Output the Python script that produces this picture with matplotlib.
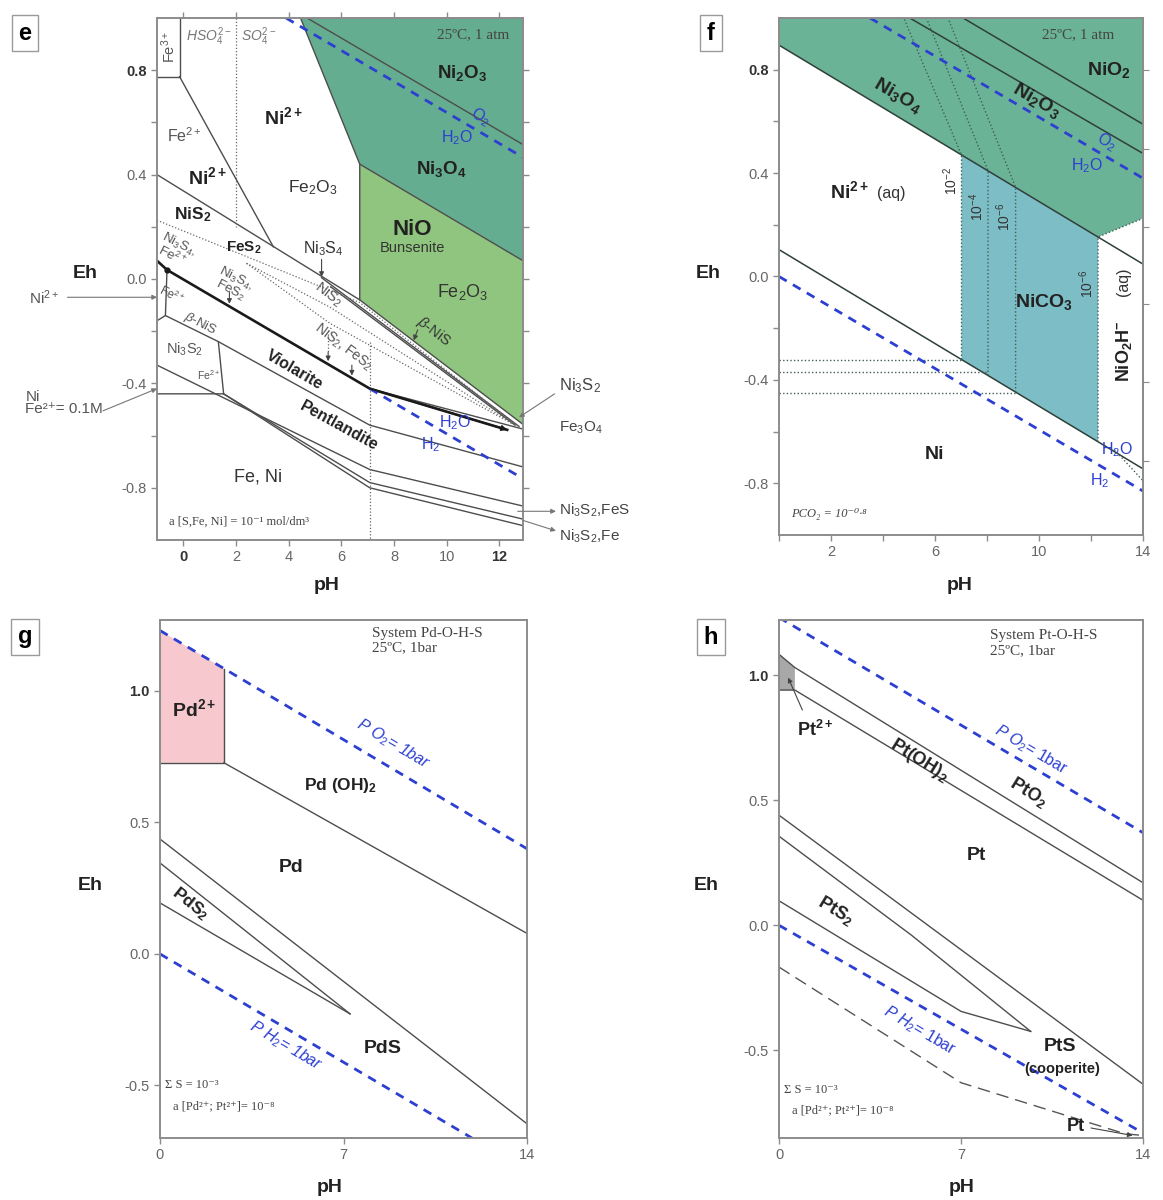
import numpy as np
import matplotlib.pyplot as plt
from matplotlib.patches import Polygon

plt.rcParams['font.family'] = ['Liberation Sans', 'DejaVu Sans']
plt.rcParams['mathtext.fontset'] = 'custom'
plt.rcParams['mathtext.rm'] = 'Liberation Sans'
plt.rcParams['mathtext.it'] = 'Liberation Sans:italic'
plt.rcParams['mathtext.bf'] = 'Liberation Sans:bold'
SERIF = ['Liberation Serif', 'DejaVu Serif']

# ---------------- panel e : Ni-Fe-S-O-H ----------------
e_dark = [(4.45, 1.0), (6.7, 0.44), (12.9, 0.07), (12.9, 1.0)]
e_light = [(6.7, 0.44), (12.9, 0.07), (12.9, -0.557), (6.7, -0.08)]
e_solid = [
    [(-1.0, 0.775), (-0.14, 0.775), (-0.14, 1.0)],
    [(-0.14, 0.775), (3.42, 0.123)],
    [(4.45, 1.0), (6.7, 0.44), (6.7, -0.08)],
    [(4.7, 1.0), (12.9, 0.515)],
    [(6.7, 0.44), (12.9, 0.07)],
    [(-1.0, 0.40), (6.7, -0.08), (12.9, -0.557)],
    [(5.25, 0.005), (12.75, -0.565)],
    [(5.6, -0.03), (12.6, -0.56)],
    [(-0.62, 0.035), (-0.68, -0.14), (-1.0, -0.16)],
    [(-0.68, -0.14), (1.33, -0.24), (7.08, -0.56), (12.9, -0.72)],
    [(1.33, -0.24), (1.53, -0.44), (-1.0, -0.44)],
    [(-1.0, -0.33), (7.08, -0.73), (12.9, -0.87)],
    [(1.53, -0.44), (7.08, -0.78), (12.9, -0.92)],
    [(1.53, -0.44), (7.08, -0.80), (12.9, -0.945)],
    [(7.08, -0.42), (12.9, -0.575)],
]
e_violarite = [(-1.0, 0.07), (-0.62, 0.035), (7.08, -0.42), (12.3, -0.578)]
e_dotted = [
    [(2.0, 1.0), (2.0, 0.2)],
    [(-1.0, 0.225), (6.7, -0.09), (12.6, -0.555)],
    [(2.4, 0.06), (5.57, -0.108), (12.6, -0.56)],
    [(2.4, 0.06), (5.57, -0.17), (12.5, -0.555)],
    [(7.08, -0.24), (7.08, -1.0)],
]
e_o2 = [(3.9, 1.0), (12.9, 0.466)]
e_h2 = [(7.08, -0.42), (12.9, -0.765)]

# ---------------- panel f : Ni-C-O-H ----------------
f_green = [(0, 1.0), (0, 0.895), (12.27, 0.153), (14, 0.225), (14, 1.0)]
f_teal = [(7.02, 0.470), (12.27, 0.153), (12.27, -0.640), (7.02, -0.321)]
f_solid = [
    [(0, 0.895), (14, 0.048)],
    [(5.03, 1.0), (14, 0.476)],
    [(7.08, 1.0), (14, 0.589)],
    [(0, 0.104), (14, -0.744)],
]
f_dotted = [
    [(7.02, -0.321), (7.02, 0.47), (4.8, 1.0)],
    [(8.04, -0.383), (8.04, 0.41), (5.67, 1.0)],
    [(9.1, -0.447), (9.1, 0.345), (6.5, 1.0)],
    [(12.27, -0.64), (12.27, 0.153), (14, 0.225)],
    [(0, -0.324), (7.02, -0.324)],
    [(0, -0.369), (8.04, -0.369)],
    [(0, -0.449), (9.1, -0.449)],
    [(12.9, -0.67), (14, -0.79)],
]
f_o2 = [(3.5, 1.0), (14, 0.38)]
f_h2 = [(0, 0.0), (14, -0.83)]
f_right_ticks = [0.80, 0.495, 0.19, -0.105, -0.41, -0.715]

# ---------------- panel g : Pd-O-H-S ----------------
g_pink = [(0, 1.23), (2.44, 1.085), (2.44, 0.727), (0, 0.727)]
g_solid = [
    [(0, 0.727), (2.44, 0.727), (2.44, 1.085)],
    [(2.44, 0.727), (14, 0.078)],
    [(0, 0.437), (14, -0.646)],
    [(0, 0.346), (7.25, -0.228)],
    [(0, 0.194), (7.25, -0.228)],
]
g_o2 = [(0, 1.23), (14, 0.40)]
g_h2 = [(0, 0.0), (11.9, -0.70)]

# ---------------- panel h : Pt-O-H-S ----------------
h_gray = [(0, 1.083), (0.61, 1.03), (0.61, 0.94), (0, 0.94)]
h_solid = [
    [(0, 1.083), (0.61, 1.03), (14, 0.17)],
    [(0, 0.94), (0.61, 0.94), (14, 0.10)],
    [(0, 0.44), (14, -0.635)],
    [(0, 0.356), (5.1, -0.04), (9.68, -0.424)],
    [(0, 0.098), (7.0, -0.344), (9.68, -0.424)],
]
h_dashed = [(0, -0.167), (7.0, -0.629), (13.3, -0.833), (14, -0.84)]
h_o2 = [(0, 1.23), (14, 0.37)]
h_h2 = [(0, 0.0), (14, -0.83)]

LINE = '#4d4d4d'
BLUE = '#2c3fd1'
SPINE = '#8c8c8c'
DARK = '#222222'
GRAY = '#555555'
SOLID = dict(color=LINE, lw=1.0)
DOT = dict(color='#666666', lw=0.9, ls=(0, (1, 1.6)))
BLUED = dict(color=BLUE, lw=2.0, ls=(0, (3.2, 2.6)))

W, H = 1163, 1200
fig = plt.figure(figsize=(W / 100, H / 100), dpi=100)


def axes_px(l, t, r, b):
    return fig.add_axes([l / W, 1 - b / H, (r - l) / W, (b - t) / H])


def draw(ax, pts, **kw):
    xs, ys = zip(*pts)
    ax.plot(xs, ys, **kw)


def fill(ax, pts, color):
    ax.add_patch(Polygon(pts, closed=True, fc=color, ec='none', zorder=0))


def ang(ax, p0, p1):
    a = ax.transData.transform([p0, p1])
    return np.degrees(np.arctan2(a[1, 1] - a[0, 1], a[1, 0] - a[0, 0]))


def txt(ax, x, y, s, size=12, bold=False, color=DARK, rot=0, **kw):
    kw.setdefault('ha', 'center')
    kw.setdefault('va', 'center')
    ax.text(x, y, s, fontsize=size, fontweight='bold' if bold else 'normal',
            color=color, rotation=rot, rotation_mode='anchor', clip_on=False, **kw)


def arrow(ax, start, end, color='#444444', lw=0.8, style='-|>', ms=7):
    ax.annotate('', xy=end, xytext=start, annotation_clip=False,
                arrowprops=dict(arrowstyle=style, color=color, lw=lw,
                                mutation_scale=ms, shrinkA=0, shrinkB=0))


def style(ax, xlim, ylim, xt, xl, yt, yl, bold, minor_y=(), top=False, right=False):
    ax.set_xlim(xlim)
    ax.set_ylim(ylim)
    ax.set_xticks(xt)
    ax.set_xticklabels(xl)
    ax.set_yticks(yt)
    ax.set_yticklabels(yl)
    if minor_y:
        ax.set_yticks(minor_y, minor=True)
    for s in ax.spines.values():
        s.set_color(SPINE)
        s.set_linewidth(1.4)
    ax.tick_params(which='both', direction='out', length=4, width=1.0,
                   color=SPINE, labelsize=10.5, labelcolor='#666666',
                   top=top, right=right, labeltop=False, labelright=False)
    for t in ax.get_xticklabels() + ax.get_yticklabels():
        if t.get_text() in bold:
            t.set_fontweight('bold')
            t.set_color('#333333')


def tag(x, y, s):
    fig.text(x / W, 1 - y / H, s, fontsize=17, fontweight='bold', ha='center', va='center',
             bbox=dict(boxstyle='square,pad=0.28', fc='white', ec='#9a9a9a', lw=1.0))


def axis_labels(ehx, ehy, phx, phy):
    fig.text(ehx / W, 1 - ehy / H, 'Eh', fontsize=14, fontweight='bold', ha='center', va='center', color=DARK)
    fig.text(phx / W, 1 - phy / H, 'pH', fontsize=14, fontweight='bold', ha='center', va='center', color=DARK)


# ======================= e =======================
ax = axes_px(157, 18, 523, 540)
style(ax, (-1.0, 12.9), (-1.0, 1.0), [0, 2, 4, 6, 8, 10, 12],
      ['0', '2', '4', '6', '8', '10', '12'], [-0.8, -0.4, 0.0, 0.4, 0.8],
      ['-0.8', '-0.4', '0.0', '0.4', '0.8'], ('0', '12', '0.8'),
      minor_y=[-0.6, -0.2, 0.2, 0.6], top=True, right=True)
fill(ax, e_dark, '#65ad90')
fill(ax, e_light, '#90c57f')
for ln in e_solid:
    draw(ax, ln, **SOLID)
for ln in e_dotted:
    draw(ax, ln, **DOT)
draw(ax, e_violarite, color='#1a1a1a', lw=1.9)
ax.plot([-0.62], [0.035], 'o', color='#1a1a1a', ms=3.5)
arrow(ax, e_violarite[-2], e_violarite[-1], color='#1a1a1a', lw=1.2, style='-|>', ms=8)
draw(ax, e_o2, **BLUED)
draw(ax, e_h2, **BLUED)

txt(ax, -0.57, 0.89, r'Fe$^{3+}$', 10.5, color=GRAY, rot=90)
txt(ax, 0.95, 0.93, r'$HSO_4^{2-}$', 10, color='#777777')
txt(ax, 2.85, 0.93, r'$SO_4^{2-}$', 10, color='#777777')
txt(ax, 3.8, 0.62, r'$\mathbf{Ni^{2+}}$', 14)
txt(ax, 0.05, 0.55, r'Fe$^{2+}$', 11.5, color=GRAY)
txt(ax, 0.9, 0.39, r'$\mathbf{Ni^{2+}}$', 14)
txt(ax, 4.9, 0.35, r'Fe$_2$O$_3$', 12.5, color='#333333')
txt(ax, 0.35, 0.245, r'$\mathbf{NiS_2}$', 12.5)
txt(ax, 2.3, 0.12, r'$\mathbf{FeS_2}$', 11)
txt(ax, 5.3, 0.115, r'Ni$_3$S$_4$', 11.5, color='#333333')
arrow(ax, (5.25, 0.075), (5.25, 0.008))
rot_s = ang(ax, (-1.0, 0.225), (6.7, -0.09)) - 5
txt(ax, -0.3, 0.11, 'Ni$_3$S$_4$,\nFe$^{2+}$', 9.5, color=GRAY, rot=rot_s, linespacing=0.85)
txt(ax, 1.9, -0.02, 'Ni$_3$S$_4$,\nFeS$_2$', 9.5, color=GRAY, rot=rot_s, linespacing=0.85)
arrow(ax, (1.75, -0.05), (1.75, -0.095))
txt(ax, -0.45, -0.06, r'Fe$^{2+}$', 8.5, color=GRAY, rot=rot_s)
txt(ax, 0.65, -0.17, r'$\beta$-NiS', 9.5, color=GRAY, rot=rot_s)
txt(ax, 0.05, -0.27, r'Ni$_3$S$_2$', 10.5, color=GRAY)
txt(ax, 0.95, -0.37, r'Fe$^{2+}$', 7.5, color=GRAY)
txt(ax, 5.5, -0.06, r'NiS$_2$', 10.5, color=GRAY, rot=rot_s - 10)
txt(ax, 6.1, -0.26, r'NiS$_2$, FeS$_2$', 10, color=GRAY, rot=rot_s - 10)
draw(ax, [(5.5, -0.21), (5.5, -0.28)], **DOT)
arrow(ax, (5.5, -0.28), (5.5, -0.315))
arrow(ax, (6.4, -0.33), (6.4, -0.37))
rot_v = ang(ax, e_violarite[1], e_violarite[2])
txt(ax, 4.2, -0.35, 'Violarite', 11.5, bold=True, rot=rot_v)
rot_p = ang(ax, (1.33, -0.24), (7.08, -0.56))
txt(ax, 5.9, -0.565, 'Pentlandite', 11.5, bold=True, rot=rot_p)
txt(ax, 10.6, 0.79, r'$\mathbf{Ni_2O_3}$', 13.5)
rot_o = ang(ax, e_o2[0], e_o2[1])
txt(ax, 11.3, 0.62, r'O$_2$', 11.5, color=BLUE, rot=rot_o)
txt(ax, 10.4, 0.54, r'H$_2$O', 11.5, color=BLUE)
txt(ax, 9.8, 0.42, r'$\mathbf{Ni_3O_4}$', 13.5)
txt(ax, 8.7, 0.19, 'NiO', 16, bold=True)
txt(ax, 8.7, 0.12, 'Bunsenite', 10.5, color='#333333')
txt(ax, 10.6, -0.05, r'Fe$_2$O$_3$', 13, color='#333333')
rot_b = ang(ax, (6.7, -0.08), (12.9, -0.557))
txt(ax, 9.5, -0.2, r'$\beta$-NiS', 10.5, color='#333333', rot=rot_b)
arrow(ax, (8.9, -0.195), (8.75, -0.235))
txt(ax, 10.3, -0.55, r'H$_2$O', 11.5, color=BLUE)
txt(ax, 9.4, -0.635, r'H$_2$', 11.5, color=BLUE)
txt(ax, 2.85, -0.76, 'Fe, Ni', 13, color='#333333')
txt(ax, 11.0, 0.935, '25ºC, 1 atm', 11, color='#444444', family=SERIF)
txt(ax, -0.55, -0.93, 'a [S,Fe, Ni] = 10⁻¹ mol/dm³', 9, color='#444444',
    family=SERIF, ha='left')
# outside callouts
txt(ax, -5.3, -0.07, r'Ni$^{2+}$', 11, color=GRAY)
arrow(ax, (-4.4, -0.07), (-1.0, -0.07), color='#777777')
txt(ax, -6.0, -0.475, 'Ni\nFe²⁺= 0.1M', 11, color=GRAY, ha='left', linespacing=0.9)
arrow(ax, (-3.05, -0.505), (-1.0, -0.42), color='#777777')
txt(ax, 14.25, -0.41, r'Ni$_3$S$_2$', 12, color='#444444', ha='left')
arrow(ax, (14.1, -0.44), (12.75, -0.53), color='#777777')
txt(ax, 14.25, -0.57, r'Fe$_3$O$_4$', 11, color='#444444', ha='left')
draw(ax, [(12.9, -0.57), (14.1, -0.57)], color='#777777', lw=0.8)
txt(ax, 14.25, -0.885, r'Ni$_3$S$_2$,FeS', 11, color='#444444', ha='left')
arrow(ax, (12.7, -0.89), (14.15, -0.89), color='#777777')
txt(ax, 14.25, -0.985, r'Ni$_3$S$_2$,Fe', 11, color='#444444', ha='left')
arrow(ax, (12.9, -0.925), (14.15, -0.965), color='#777777')
tag(25, 33, 'e')
axis_labels(85, 273, 327, 585)

# ======================= f =======================
ax = axes_px(779, 18, 1143, 535)
style(ax, (0, 14), (-1.0, 1.0), [0, 2, 4, 6, 8, 10, 12, 14],
      ['', '2', '', '6', '', '10', '', '14'], [-0.8, -0.4, 0.0, 0.4, 0.8],
      ['-0.8', '-0.4', '0.0', '0.4', '0.8'], ('0.8',),
      minor_y=[-0.6, -0.2, 0.2, 0.6])
sec = ax.secondary_yaxis('right')
sec.set_yticks(f_right_ticks)
sec.set_yticklabels([])
sec.spines['right'].set_color(SPINE)
sec.spines['right'].set_linewidth(1.4)
sec.tick_params(direction='out', length=4, color=SPINE)
fill(ax, f_green, '#6bb396')
fill(ax, f_teal, '#7dbdc5')
for ln in f_solid:
    draw(ax, ln, color='#2f3f3a', lw=1.1)
for ln in f_dotted:
    draw(ax, ln, color='#3e5f58', lw=1.0, ls=(0, (1, 1.6)))
draw(ax, f_o2, **BLUED)
draw(ax, f_h2, **BLUED)
txt(ax, 11.5, 0.935, '25ºC, 1 atm', 11, color='#444444', family=SERIF)
txt(ax, 12.7, 0.80, r'$\mathbf{NiO_2}$', 14)
rot_f = ang(ax, (5.03, 1.0), (14, 0.476))
txt(ax, 9.9, 0.68, r'$\mathbf{Ni_2O_3}$', 14, rot=rot_f)
txt(ax, 4.55, 0.70, r'$\mathbf{Ni_3O_4}$', 14, rot=rot_f)
txt(ax, 12.6, 0.52, r'O$_2$', 11.5, color=BLUE, rot=rot_f)
txt(ax, 11.85, 0.43, r'H$_2$O', 11.5, color=BLUE)
txt(ax, 2.7, 0.33, r'$\mathbf{Ni^{2+}}$', 14)
txt(ax, 4.3, 0.32, '(aq)', 11.5, color='#333333')
txt(ax, 6.6, 0.37, '10$^{-2}$', 10, color='#333333', rot=90)
txt(ax, 7.6, 0.27, '10$^{-4}$', 10, color='#333333', rot=90)
txt(ax, 8.65, 0.23, '10$^{-6}$', 10, color='#333333', rot=90)
txt(ax, 11.85, -0.03, '10$^{-6}$', 10, color='#333333', rot=90)
txt(ax, 10.2, -0.10, r'$\mathbf{NiCO_3}$', 14)
txt(ax, 13.25, -0.29, r'$\mathbf{NiO_2H^{-}}$', 13, rot=90)
txt(ax, 13.25, -0.02, '(aq)', 11.5, color='#333333', rot=90)
txt(ax, 6.0, -0.69, 'Ni', 14, bold=True)
txt(ax, 13.0, -0.67, r'H$_2$O', 11.5, color=BLUE)
txt(ax, 12.35, -0.79, r'H$_2$', 11.5, color=BLUE)
txt(ax, 0.45, -0.92, 'PCO₂ = 10⁻⁰·⁸', 9, color='#444444', family=SERIF, ha='left',
    style='italic')
tag(711, 33, 'f')
axis_labels(708, 273, 960, 585)

# ======================= g =======================
ax = axes_px(160, 620, 527, 1138)
style(ax, (0, 14), (-0.70, 1.27), [0, 7, 14], ['0', '7', '14'],
      [-0.5, 0.0, 0.5, 1.0], ['-0.5', '0.0', '0.5', '1.0'], ('1.0',))
fill(ax, g_pink, '#f7c8ce')
for ln in g_solid:
    draw(ax, ln, **SOLID)
draw(ax, g_o2, **BLUED)
draw(ax, g_h2, **BLUED)
txt(ax, 1.3, 0.93, r'$\mathbf{Pd^{2+}}$', 14)
txt(ax, 6.9, 0.64, r'$\mathbf{Pd\ (OH)_2}$', 12.5)
txt(ax, 5.0, 0.33, 'Pd', 14, bold=True)
txt(ax, 1.15, 0.19, r'$\mathbf{PdS_2}$', 12.5, rot=ang(ax, (0, 0.346), (7.25, -0.228)))
txt(ax, 8.5, -0.36, 'PdS', 14, bold=True)
rot_g = ang(ax, g_o2[0], g_o2[1])
txt(ax, 8.9, 0.80, r'$P\ O_2$= 1bar', 11.5, color=BLUE, rot=rot_g, style='italic')
txt(ax, 4.8, -0.35, r'$P\ H_2$= 1bar', 11.5, color=BLUE, rot=rot_g, style='italic')
txt(ax, 8.1, 1.245, 'System Pd-O-H-S\n25ºC, 1bar', 11, color='#444444',
    family=SERIF, ha='left', va='top', linespacing=1.2)
txt(ax, 0.2, -0.50, 'Σ S = 10⁻³', 9, color='#444444', family=SERIF, ha='left')
txt(ax, 0.5, -0.58, 'a [Pd²⁺; Pt²⁺]= 10⁻⁸', 9, color='#444444', family=SERIF, ha='left')
tag(25, 637, 'g')
axis_labels(90, 885, 330, 1188)

# ======================= h =======================
ax = axes_px(779, 620, 1143, 1138)
style(ax, (0, 14), (-0.85, 1.22), [0, 7, 14], ['0', '7', '14'],
      [-0.5, 0.0, 0.5, 1.0], ['-0.5', '0.0', '0.5', '1.0'], ('1.0',))
fill(ax, h_gray, '#a8a8a8')
for ln in h_solid:
    draw(ax, ln, **SOLID)
draw(ax, h_dashed, color='#555555', lw=1.0, ls=(0, (9, 5)))
draw(ax, h_o2, **BLUED)
draw(ax, h_h2, **BLUED)
txt(ax, 1.4, 0.78, r'$\mathbf{Pt^{2+}}$', 13)
arrow(ax, (0.9, 0.86), (0.35, 0.99))
rot_h = ang(ax, (0.61, 1.03), (14, 0.17))
txt(ax, 5.4, 0.66, r'$\mathbf{Pt(OH)_2}$', 13, rot=rot_h)
txt(ax, 9.6, 0.53, r'$\mathbf{PtO_2}$', 13, rot=rot_h)
txt(ax, 7.6, 0.28, 'Pt', 14, bold=True)
txt(ax, 2.2, 0.06, r'$\mathbf{PtS_2}$', 13, rot=ang(ax, (0, 0.098), (7.0, -0.344)))
txt(ax, 10.8, -0.485, 'PtS', 14, bold=True)
txt(ax, 10.9, -0.575, '(cooperite)', 10.5, bold=True)
txt(ax, 11.4, -0.805, 'Pt', 13, bold=True)
arrow(ax, (12.0, -0.81), (13.6, -0.84))
rot_ho = ang(ax, h_o2[0], h_o2[1])
txt(ax, 9.7, 0.70, r'$P\ O_2$= 1bar', 11.5, color=BLUE, rot=rot_ho)
txt(ax, 5.4, -0.42, r'$P\ H_2$= 1bar', 11.5, color=BLUE, rot=rot_ho)
txt(ax, 8.1, 1.185, 'System Pt-O-H-S\n25ºC, 1bar', 11, color='#444444',
    family=SERIF, ha='left', va='top', linespacing=1.2)
txt(ax, 0.2, -0.66, 'Σ S = 10⁻³', 9, color='#444444', family=SERIF, ha='left')
txt(ax, 0.5, -0.74, 'a [Pd²⁺; Pt²⁺]= 10⁻⁸', 9, color='#444444', family=SERIF, ha='left')
tag(711, 637, 'h')
axis_labels(706, 885, 962, 1188)

fig.savefig('out.png', dpi=100)
